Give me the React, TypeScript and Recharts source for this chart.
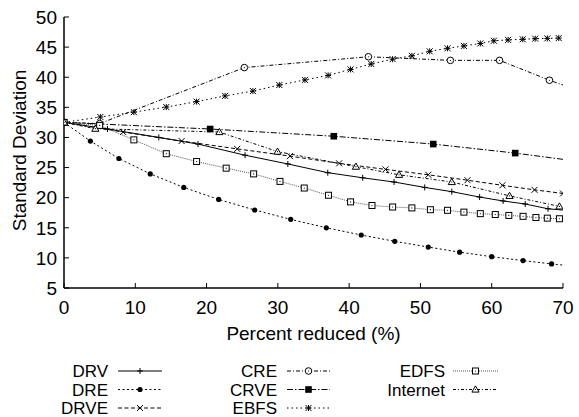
import { Line, LineChart, XAxis, YAxis } from "recharts";

const FONT = "'Liberation Sans', Arial, Helvetica, sans-serif";
const X_TICKS = [0, 10, 20, 30, 40, 50, 60, 70];
const Y_TICKS = [5, 10, 15, 20, 25, 30, 35, 40, 45, 50];
const X_MAX = 70;

// [percent reduced, std deviation]
const DRV = [[0, 32.5], [6.1, 31.4], [13.3, 30.0], [18.8, 28.9], [25.4, 27.05], [31.4, 25.6], [37.0, 24.15], [41.9, 23.3], [46.3, 22.6], [50.6, 21.7], [54.4, 21.0], [58.3, 20.1], [61.6, 19.45], [64.7, 18.95], [67.9, 18.15], [71.5, 17.8]];
const DRE = [[0, 32.5], [3.7, 29.4], [7.7, 26.5], [12.1, 23.95], [16.8, 21.7], [21.7, 19.7], [26.75, 17.95], [31.8, 16.4], [36.8, 15.0], [41.7, 13.8], [46.4, 12.75], [51.1, 11.8], [55.5, 10.95], [60.0, 10.2], [64.4, 9.55], [68.4, 9.0], [72.5, 8.5]];
const DRVE = [[0, 32.5], [8.3, 30.9], [16.5, 29.4], [24.3, 28.1], [31.7, 26.9], [38.6, 25.7], [45.1, 24.7], [51.1, 23.8], [56.6, 22.9], [61.5, 22.05], [66.0, 21.3], [70, 20.7]];
const CRE = [[0, 32.5], [5, 32.3], [25.3, 41.6], [42.7, 43.4], [54.2, 42.8], [61.1, 42.8], [68.1, 39.5], [75, 36.6]];
const CRVE = [[0, 32.5], [20.5, 31.4], [37.85, 30.2], [51.8, 28.9], [63.3, 27.4], [73, 25.9]];
const EBFS = [[0, 32.5], [5.1, 33.4], [9.8, 34.2], [14.35, 35.05], [18.6, 35.95], [22.6, 36.9], [26.5, 37.7], [30.2, 38.7], [33.8, 39.55], [37.05, 40.3], [40.2, 41.3], [43.1, 42.2], [46.1, 43.0], [48.8, 43.55], [51.3, 44.3], [53.8, 44.8], [56.1, 45.2], [58.4, 45.6], [60.3, 46.05], [62.3, 46.2], [64.35, 46.3], [66.1, 46.4], [67.8, 46.45], [69.4, 46.5]];
const EDFS = [[0, 32.5], [5, 32.0], [9.8, 29.6], [14.35, 27.3], [18.6, 26.0], [22.75, 24.9], [26.6, 23.95], [30.3, 22.7], [33.7, 21.6], [37.1, 20.4], [40.2, 19.3], [43.2, 18.7], [46.1, 18.45], [48.8, 18.3], [51.4, 18.0], [53.8, 17.9], [56.1, 17.6], [58.4, 17.35], [60.5, 17.2], [62.4, 17.05], [64.4, 16.9], [66.2, 16.7], [67.8, 16.6], [69.5, 16.5]];
const INTERNET = [[0, 32.5], [4.4, 31.45], [21.8, 30.9], [29.95, 27.65], [40.95, 25.15], [47.0, 23.8], [54.4, 22.6], [62.5, 20.3], [69.5, 18.55]];

type Kind = "plus" | "dot" | "cross" | "circle" | "square" | "star" | "box" | "triangle";

const SERIES: { name: string; data: number[][]; dash?: string; kind: Kind; color?: string }[] = [
  { name: "DRV", data: DRV, kind: "plus" },
  { name: "DRE", data: DRE, dash: "2 2.5", kind: "dot" },
  { name: "DRVE", data: DRVE, dash: "4 2.5", kind: "cross" },
  { name: "CRE", data: CRE, dash: "4 2 1 2", kind: "circle" },
  { name: "CRVE", data: CRVE, dash: "6 2 1.5 2", kind: "square" },
  { name: "EBFS", data: EBFS, dash: "1.5 3", kind: "star" },
  { name: "EDFS", data: EDFS, dash: "1 1", kind: "box", color: "#555" },
  { name: "Internet", data: INTERNET, dash: "3 2 1 2", kind: "triangle" },
];

function Marker({ kind, x, y }: { kind: Kind; x: number; y: number }) {
  const s = { stroke: "#000", strokeWidth: 1 };
  switch (kind) {
    case "plus":
      return <g {...s}><line x1={x - 3} y1={y} x2={x + 3} y2={y} /><line x1={x} y1={y - 3} x2={x} y2={y + 3} /></g>;
    case "cross":
      return <g {...s}><line x1={x - 3} y1={y - 3} x2={x + 3} y2={y + 3} /><line x1={x - 3} y1={y + 3} x2={x + 3} y2={y - 3} /></g>;
    case "star":
      return (
        <g {...s}>
          <line x1={x - 3} y1={y} x2={x + 3} y2={y} /><line x1={x} y1={y - 3} x2={x} y2={y + 3} />
          <line x1={x - 3} y1={y - 3} x2={x + 3} y2={y + 3} /><line x1={x - 3} y1={y + 3} x2={x + 3} y2={y - 3} />
        </g>
      );
    case "dot":
      return <circle cx={x} cy={y} r={2.6} fill="#000" />;
    case "circle":
      return <g><circle cx={x} cy={y} r={3.3} fill="#fff" {...s} /><circle cx={x} cy={y} r={0.6} fill="#000" /></g>;
    case "square":
      return <rect x={x - 3.3} y={y - 3.3} width={6.6} height={6.6} fill="#000" />;
    case "box":
      return <g><rect x={x - 3} y={y - 3} width={6} height={6} fill="#fff" {...s} /><circle cx={x} cy={y} r={0.6} fill="#000" /></g>;
    case "triangle":
      return <g><path d={`M${x},${y - 3.6} L${x + 3.6},${y + 2.6} L${x - 3.6},${y + 2.6} Z`} fill="#fff" {...s} /><circle cx={x} cy={y} r={0.6} fill="#000" /></g>;
  }
}

const BottomTick = ({ x, y, payload }: any) => (
  <g>
    <line x1={x} y1={y} x2={x} y2={y - 5} stroke="#000" />
    <text x={x} y={y + 25.5} textAnchor="middle" fontSize={19} fontFamily={FONT} fill="#000">{payload.value}</text>
  </g>
);
const TopTick = ({ x, y }: any) => <line x1={x} y1={y} x2={x} y2={y + 5} stroke="#000" />;
const LeftTick = ({ x, y, payload }: any) => (
  <g>
    <line x1={x} y1={y} x2={x + 5} y2={y} stroke="#000" />
    <text x={x - 7} y={y + 6.8} textAnchor="end" fontSize={19} fontFamily={FONT} fill="#000">{payload.value}</text>
  </g>
);
const RightTick = ({ x, y }: any) => <line x1={x} y1={y} x2={x - 5} y2={y} stroke="#000" />;

function LegendBox() {
  const cols = [{ text: 108, l1: 118, l2: 162 }, { text: 277, l1: 287, l2: 330 }, { text: 445, l1: 453, l2: 498 }];
  const rows = [371, 389.5, 408];
  return (
    <svg width={579} height={417} style={{ position: "absolute", left: 0, top: 0, pointerEvents: "none" }}>
      {SERIES.map((s, i) => {
        const c = cols[Math.floor(i / 3)];
        const y = rows[i % 3];
        return (
          <g key={s.name}>
            <text x={c.text} y={y + 6} textAnchor="end" fontSize={17} fontFamily={FONT} fill="#000">{s.name}</text>
            <line x1={c.l1} y1={y} x2={c.l2} y2={y} stroke={s.color ?? "#000"} strokeDasharray={s.dash} />
            <Marker kind={s.kind} x={(c.l1 + c.l2) / 2} y={y} />
          </g>
        );
      })}
    </svg>
  );
}

export default function App() {
  return (
    <div style={{ position: "absolute", left: 0, top: 0, width: 579, height: 417, background: "#fff" }}>
      <LineChart width={579} height={417} margin={{ top: 17, right: 16, left: 0, bottom: 0 }}>
        <XAxis
          type="number"
          dataKey="x"
          domain={[0, X_MAX]}
          ticks={X_TICKS}
          allowDataOverflow
          height={129}
          tickSize={0}
          tickMargin={0}
          tick={<BottomTick />}
          axisLine={{ stroke: "#000", strokeWidth: 1.5 }}
          label={{
            content: ({ viewBox }: any) => (
              <text x={viewBox.x + viewBox.width / 2} y={viewBox.y + 52} textAnchor="middle" fontSize={19} fontFamily={FONT} fill="#000">
                Percent reduced (%)
              </text>
            ),
          }}
        />
        <XAxis xAxisId="top" orientation="top" type="number" domain={[0, X_MAX]} ticks={X_TICKS} allowDataOverflow height={0} tickSize={0} tickMargin={0} tick={<TopTick />} axisLine={{ stroke: "#000", strokeWidth: 1.5 }} />
        <YAxis
          type="number"
          domain={[5, 50]}
          ticks={Y_TICKS}
          allowDataOverflow
          width={64}
          tickSize={0}
          tickMargin={0}
          tick={<LeftTick />}
          axisLine={{ stroke: "#000", strokeWidth: 1.5 }}
          label={{
            content: ({ viewBox }: any) => {
              const cx = 26;
              const cy = viewBox.y + viewBox.height / 2 - 2;
              return (
                <text x={cx} y={cy} transform={`rotate(-90 ${cx} ${cy})`} textAnchor="middle" fontSize={19} fontFamily={FONT} fill="#000">
                  Standard Deviation
                </text>
              );
            },
          }}
        />
        <YAxis yAxisId="right" orientation="right" type="number" domain={[5, 50]} ticks={Y_TICKS} allowDataOverflow width={0} tickSize={0} tickMargin={0} tick={<RightTick />} axisLine={{ stroke: "#000", strokeWidth: 1.5 }} />
        {SERIES.map((s) => (
          <Line
            key={s.name}
            data={s.data.map(([x, y]) => ({ x, y }))}
            dataKey="y"
            type="linear"
            stroke={s.color ?? "#000"}
            strokeWidth={1}
            strokeDasharray={s.dash}
            isAnimationActive={false}
            activeDot={false}
            dot={(p: any) =>
              p.payload.x > X_MAX ? <g key={`${s.name}-${p.index}`} /> : <g key={`${s.name}-${p.index}`}><Marker kind={s.kind} x={p.cx} y={p.cy} /></g>
            }
          />
        ))}
      </LineChart>
      <LegendBox />
    </div>
  );
}
